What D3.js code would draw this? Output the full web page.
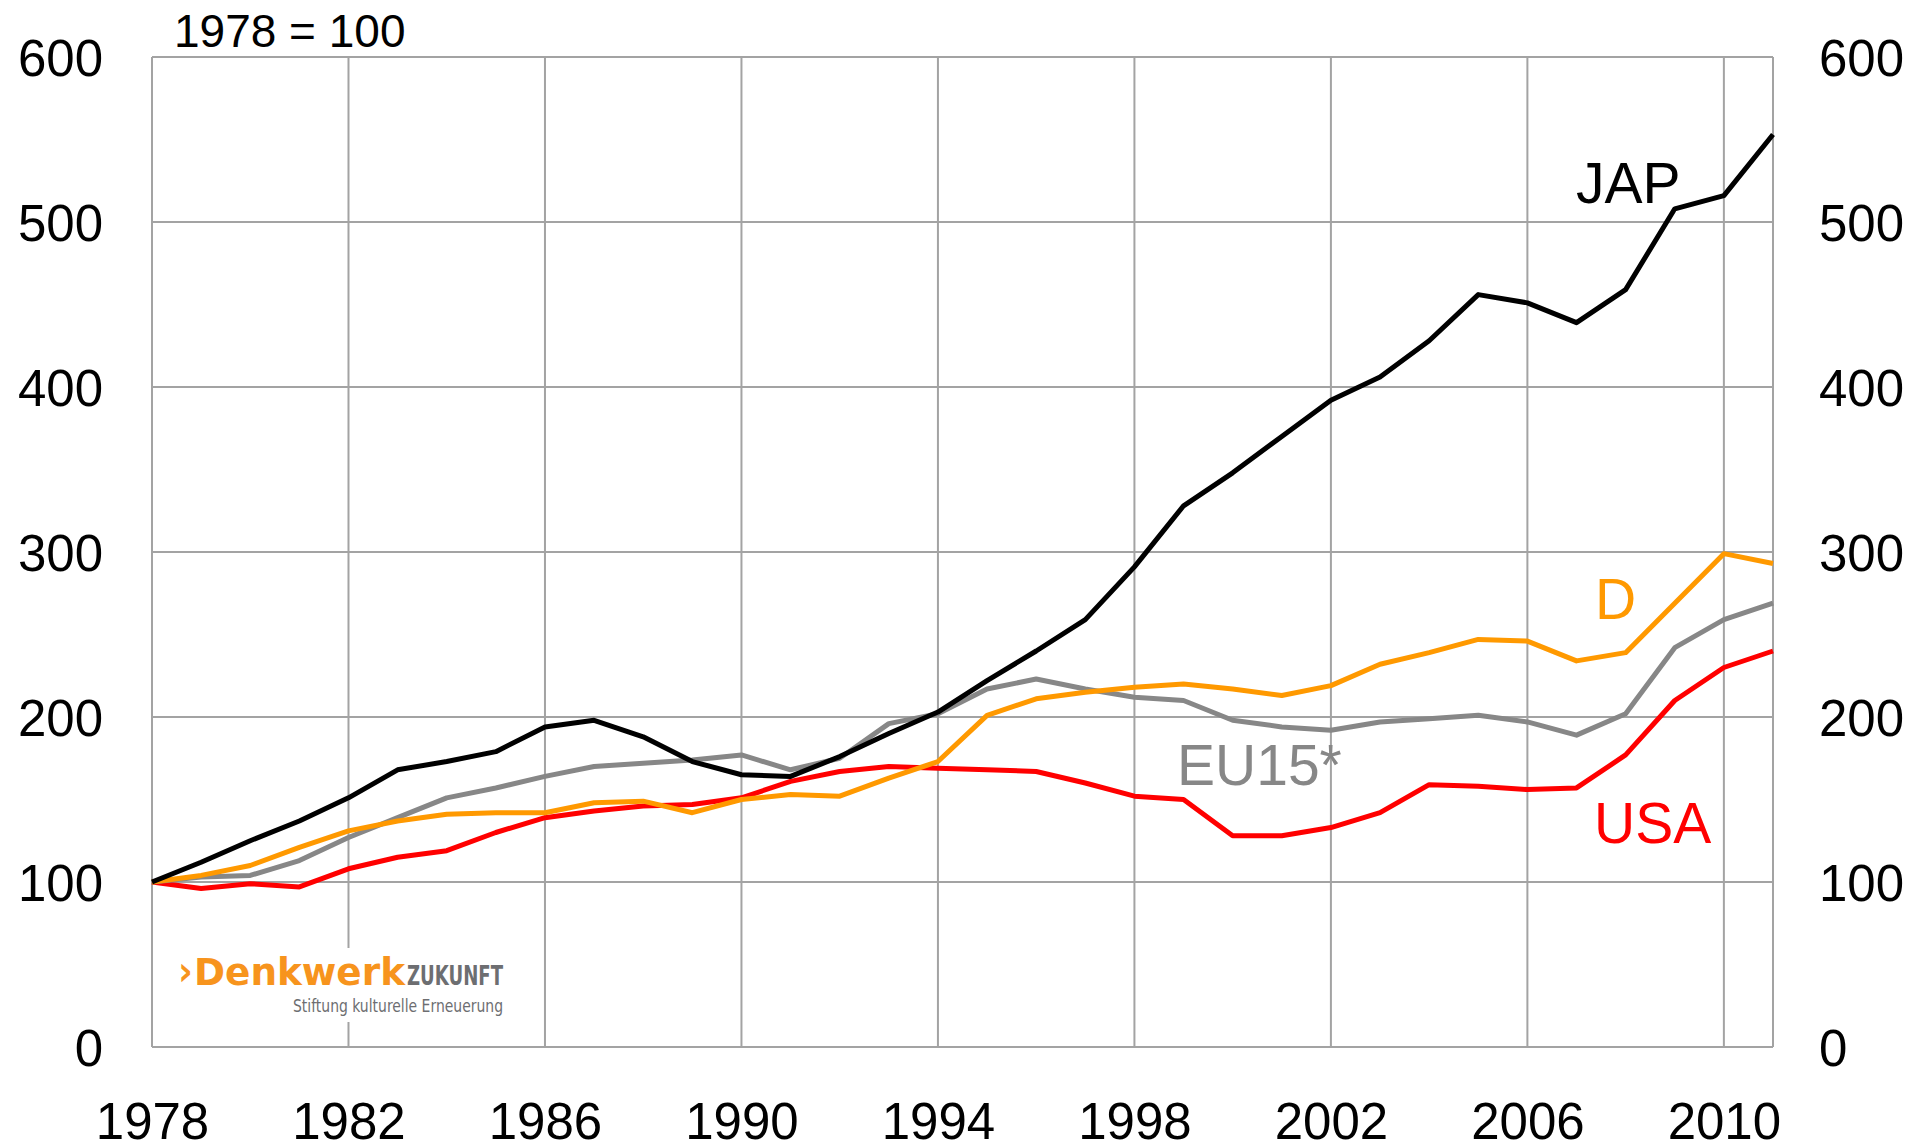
<!DOCTYPE html>
<html>
<head>
<meta charset="utf-8">
<script src="https://cdn.jsdelivr.net/npm/d3@7"></script>
<style>
  body { margin: 0; background: #fff; }
  svg { display: block; font-family: "Liberation Sans", Arial, sans-serif; }
</style>
</head>
<body>
<svg width="1927" height="1146"></svg>
<script>
// index values, 1978 = 100
var years = d3.range(1978, 2012);

var jap = [100, 112, 125, 137, 151, 168, 173, 179, 194, 198, 188, 173,
  165, 164, 176, 190, 203, 222, 240, 259, 291, 328,
  348, 370, 392, 406, 428, 456, 451, 439, 459, 508,
  516, 553];

var eu15 = [100, 103, 104, 113, 127, 139, 151, 157, 164, 170, 172, 174,
  177, 168, 175, 196, 202, 217, 223, 217, 212, 210,
  198, 194, 192, 197, 199, 201, 197, 189, 202, 242,
  259, 269];

var deu = [100, 104, 110, 121, 131, 137, 141, 142, 142, 148, 149, 142,
  150, 153, 152, 163, 173, 201, 211, 215, 218, 220,
  217, 213, 219, 232, 239, 247, 246, 234, 239, 269,
  299, 293];

var usa = [100, 96, 99, 97, 108, 115, 119, 130, 139, 143, 146, 147,
  151, 161, 167, 170, 169, 168, 167, 160, 152, 150,
  128, 128, 133, 142, 159, 158, 156, 157, 177, 210,
  230, 240];

var yTicks = [0, 100, 200, 300, 400, 500, 600];
var xTicks = [1978, 1982, 1986, 1990, 1994, 1998, 2002, 2006, 2010];

var series = [
  {name: 'USA', values: usa, color: '#ff0000', lx: 1594, ly: 843},
  {name: 'EU15*', values: eu15, color: '#878787', lx: 1177, ly: 785},
  {name: 'D', values: deu, color: '#ff9900', lx: 1595, ly: 619},
  {name: 'JAP', values: jap, color: '#000000', lx: 1576, ly: 203}
];

var svg = d3.select('svg');

var x = d3.scaleLinear().domain([1978, 2011]).range([152, 1773]);
var y = d3.scaleLinear().domain([0, 600]).range([1047, 57]);

var grid = svg.append('g').attr('stroke', '#a3a3a3').attr('stroke-width', 2);

grid.selectAll('.hline')
  .data(yTicks)
  .enter().append('line')
  .attr('x1', x(1978)).attr('x2', x(2011))
  .attr('y1', function(d){ return y(d); })
  .attr('y2', function(d){ return y(d); });

grid.selectAll('.vline')
  .data(xTicks.concat([2011]))
  .enter().append('line')
  .attr('y1', y(0)).attr('y2', y(600))
  .attr('x1', function(d){ return x(d); })
  .attr('x2', function(d){ return x(d); });

// axes, labels only
var left = svg.append('g')
  .attr('transform', 'translate(' + x(1978) + ',0)')
  .call(d3.axisLeft(y).tickValues(yTicks).tickSize(0).tickPadding(49));
var right = svg.append('g')
  .attr('transform', 'translate(' + x(2011) + ',0)')
  .call(d3.axisRight(y).tickValues(yTicks).tickSize(0).tickPadding(46));
var bottom = svg.append('g')
  .attr('transform', 'translate(0,' + y(0) + ')')
  .call(d3.axisBottom(x).tickValues(xTicks).tickFormat(d3.format('d')).tickSize(0).tickPadding(56));

[left, right, bottom].forEach(function(a){
  a.select('.domain').remove();
  a.selectAll('text')
    .attr('font-family', '"Liberation Sans", Arial, sans-serif')
    .attr('font-size', 51)
    .attr('fill', '#000');
});
left.selectAll('text').attr('dy', '0.36em');
right.selectAll('text').attr('dy', '0.36em');
bottom.selectAll('text').attr('dy', '0.71em');

svg.append('text')
  .attr('x', 174).attr('y', 47)
  .attr('font-size', 46)
  .text('1978 = 100');

// logo
var logo = svg.append('g');
logo.append('rect')
  .attr('x', 172).attr('y', 948).attr('width', 340).attr('height', 74)
  .attr('fill', '#fff');
logo.append('text')
  .attr('x', 178).attr('y', 985)
  .attr('font-family', '"DejaVu Sans Condensed", "DejaVu Sans", sans-serif')
  .attr('font-size', 40).attr('fill', '#f7941d').attr('font-weight', 'bold')
  .text('›');
logo.append('text')
  .attr('x', 194).attr('y', 985)
  .attr('font-family', '"DejaVu Sans Condensed", "DejaVu Sans", sans-serif')
  .attr('font-size', 37).attr('fill', '#f7941d').attr('font-weight', 'bold')
  .attr('textLength', 211).attr('lengthAdjust', 'spacingAndGlyphs')
  .text('Denkwerk');
logo.append('text')
  .attr('x', 407).attr('y', 985)
  .attr('font-family', '"DejaVu Sans Condensed", "DejaVu Sans", sans-serif')
  .attr('font-size', 26).attr('font-weight', 'bold').attr('fill', '#6d6e71')
  .attr('textLength', 96).attr('lengthAdjust', 'spacingAndGlyphs')
  .text('ZUKUNFT');
logo.append('text')
  .attr('x', 293).attr('y', 1012)
  .attr('font-family', '"DejaVu Sans Condensed", "DejaVu Sans", sans-serif')
  .attr('font-size', 17).attr('fill', '#6d6e71')
  .attr('textLength', 210).attr('lengthAdjust', 'spacingAndGlyphs')
  .text('Stiftung kulturelle Erneuerung');

var line = d3.line()
  .x(function(d, i){ return x(years[i]); })
  .y(function(d){ return y(d); });

svg.selectAll('.series')
  .data(series)
  .enter().append('path')
  .attr('class', 'series')
  .attr('d', function(d){ return line(d.values); })
  .attr('fill', 'none')
  .attr('stroke', function(d){ return d.color; })
  .attr('stroke-width', 5)
  .attr('stroke-linejoin', 'round');

svg.selectAll('.label')
  .data(series)
  .enter().append('text')
  .attr('class', 'label')
  .attr('x', function(d){ return d.lx; })
  .attr('y', function(d){ return d.ly; })
  .attr('font-size', 57)
  .attr('fill', function(d){ return d.color; })
  .text(function(d){ return d.name; });
</script>
</body>
</html>
